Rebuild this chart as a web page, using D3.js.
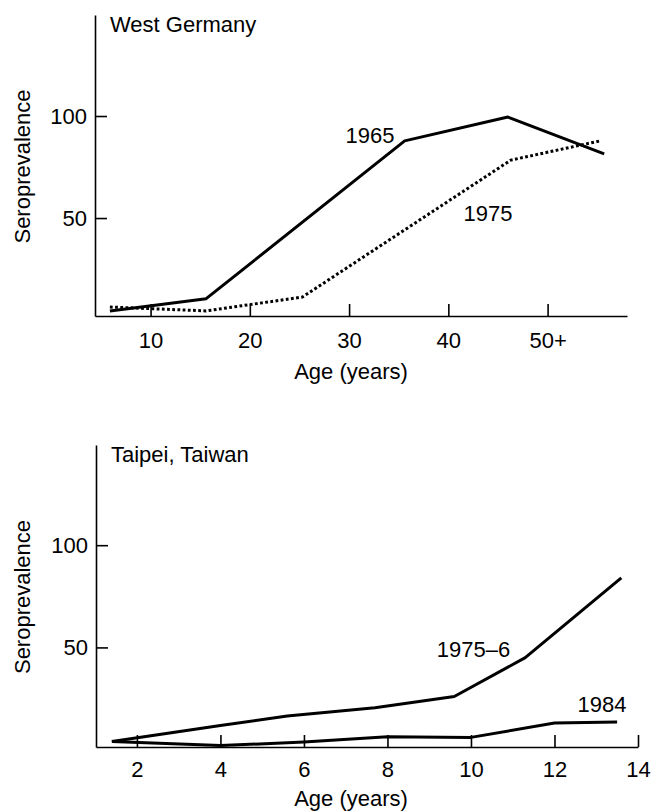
<!DOCTYPE html>
<html>
<head>
<meta charset="utf-8">
<script src="https://cdn.jsdelivr.net/npm/d3@7"></script>
<style>
	body { margin: 0; background: #ffffff; }
	svg text { font-family: "Liberation Sans", Arial, Helvetica, sans-serif; fill: #000000; }
</style>
</head>
<body>
<div id="chart"></div>
<script>
	// West Germany (age in years, seroprevalence)
	var germanyAges1965 = [5.9, 15.6, 35.6, 46, 55.7];
	var germanyValues1965 = [4.4, 10.5, 87.8, 99.5, 81.4];
	var germanyAges1975 = [5.9, 15.6, 25.3, 46.3, 55.3];
	var germanyValues1975 = [6.4, 4.5, 11.3, 78.4, 87.8];
	var germanyTicks = [10, 20, 30, 40, 50];
	var germanyTickLabels = ['10', '20', '30', '40', '50+'];

	// Taipei, Taiwan
	var taipeiAges1975 = [1.4, 4, 5.6, 7.7, 9.6, 11.3, 13.6];
	var taipeiValues1975 = [4, 11.8, 16.5, 20.5, 26, 45, 84];
	var taipeiAges1984 = [1.4, 4, 6, 8, 10, 12, 13.5];
	var taipeiValues1984 = [4, 2, 3.7, 6.3, 6, 13, 13.5];
	var taipeiTicks = [2, 4, 6, 8, 10, 12, 14];
	var taipeiTickLabels = ['2', '4', '6', '8', '10', '12', '14'];

	var yTicks = [50, 100];
	var yTickLabels = ['50', '100'];

	var W = 651, H = 812;
	var FONT = 22;

	var svg = d3.select('#chart')
		.append('svg')
		.attr('width', W)
		.attr('height', H)
		;

	function zip(xs, ys){
		var res = [];
		for(var i=0,e=xs.length;i<e;++i){
			res.push({ x: xs[i], y: ys[i] });
		};
		return res;
	};

	// -----------------------------------------------------------------
	function drawPanel(opts){
		var x = d3.scaleLinear().domain(opts.xDomain).range([opts.left, opts.right]);
		var y = d3.scaleLinear().domain(opts.yDomain).range([opts.bottom, opts.top]);

		var g = svg.append('g').attr('class', 'panel');

		// x axis, ticks pointing up
		var xAxis = d3.axisBottom(x)
			.tickValues(opts.xTicks)
			.tickFormat(function(d, i){ return opts.xTickLabels[i]; })
			.tickSizeInner(-12)
			.tickSizeOuter(0)
			.tickPadding(opts.xPad)
			;
		var gx = g.append('g')
			.attr('transform', 'translate(0,' + opts.bottom + ')')
			.call(xAxis)
			;

		// y axis, ticks pointing right
		var yAxis = d3.axisLeft(y)
			.tickValues(yTicks)
			.tickFormat(function(d, i){ return yTickLabels[i]; })
			.tickSizeInner(-12)
			.tickSizeOuter(0)
			.tickPadding(8)
			;
		var gy = g.append('g')
			.attr('transform', 'translate(' + opts.left + ',0)')
			.call(yAxis)
			;

		[gx, gy].forEach(function(a){
			a.select('.domain').attr('stroke', '#000').attr('stroke-width', 1.6);
			a.selectAll('.tick line').attr('stroke', '#000').attr('stroke-width', 1.6);
			a.selectAll('.tick text')
				.attr('font-size', FONT)
				.attr('font-family', '"Liberation Sans", Arial, sans-serif')
				.attr('fill', '#000')
				;
		});

		// series
		var line = d3.line()
			.x(function(d){ return x(d.x); })
			.y(function(d){ return y(d.y); })
			;
		opts.series.forEach(function(s){
			g.append('path')
				.datum(s.points)
				.attr('d', line)
				.attr('fill', 'none')
				.attr('stroke', '#000')
				.attr('stroke-width', s.dotted ? 3 : 3)
				.attr('stroke-dasharray', s.dotted ? '2.8,2.4' : null)
				.attr('stroke-linejoin', 'round')
				;
			g.append('text')
				.attr('x', x(s.labelAt[0]))
				.attr('y', y(s.labelAt[1]))
				.attr('text-anchor', 'middle')
				.attr('font-size', FONT)
				.text(s.label)
				;
		});

		// titles
		g.append('text')
			.attr('x', opts.left + 15)
			.attr('y', opts.top + 17)
			.attr('font-size', FONT)
			.text(opts.title)
			;

		g.append('text')
			.attr('transform', 'translate(30,' + ((opts.top + opts.bottom) / 2 + 1) + ') rotate(-90)')
			.attr('text-anchor', 'middle')
			.attr('font-size', FONT)
			.text('Seroprevalence')
			;

		g.append('text')
			.attr('x', 351)
			.attr('y', opts.xTitleY)
			.attr('text-anchor', 'middle')
			.attr('font-size', FONT)
			.text('Age (years)')
			;
	};

	drawPanel({
		title: 'West Germany'
		,left: 95
		,right: 627
		,top: 15
		,bottom: 316
		,xDomain: [4.4, 58]
		,yDomain: [2, 149.5]
		,xTicks: germanyTicks
		,xTickLabels: germanyTickLabels
		,xPad: 16
		,xTitleY: 379
		,series: [
			{ label: '1965', points: zip(germanyAges1965, germanyValues1965), labelAt: [32.1, 86.8] }
			,{ label: '1975', points: zip(germanyAges1975, germanyValues1975), labelAt: [44, 48.5], dotted: true }
		]
	});

	drawPanel({
		title: 'Taipei, Taiwan'
		,left: 96
		,right: 638
		,top: 445
		,bottom: 747
		,xDomain: [1.02, 14]
		,yDomain: [1.3, 149]
		,xTicks: taipeiTicks
		,xTickLabels: taipeiTickLabels
		,xPad: 14
		,xTitleY: 806
		,series: [
			{ label: '1975\u20136', points: zip(taipeiAges1975, taipeiValues1975), labelAt: [10.06, 45.3] }
			,{ label: '1984', points: zip(taipeiAges1984, taipeiValues1984), labelAt: [13.14, 18.4] }
		]
	});
</script>
</body>
</html>
